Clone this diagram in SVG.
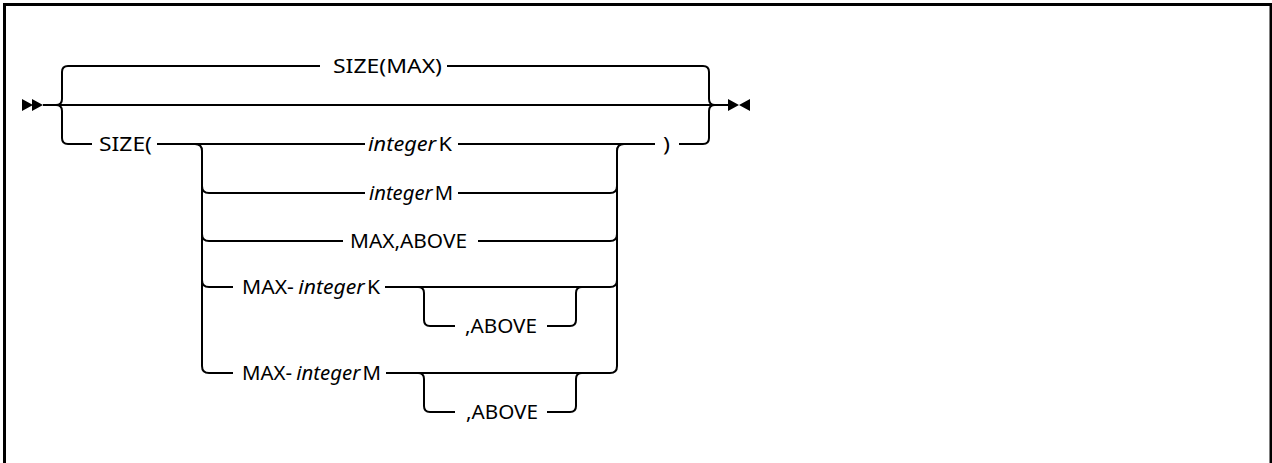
<svg xmlns="http://www.w3.org/2000/svg" width="1272" height="463" viewBox="0 0 1272 463">
<style>
.frame{fill:none;stroke:#000;stroke-width:3}
.ln{fill:none;stroke:#000;stroke-width:2}
.mk{fill:#000;stroke:none}
text{font-family:"Noto Sans","Liberation Sans",sans-serif;font-size:19px;fill:#000}
.it{font-style:italic}
</style>
<rect class="frame" x="4.5" y="4.5" width="1266.5" height="470"/>
<g id="connectors">
  <path class="mk" d="M22,99 L33,105 L22,111 Z M32,99 L43,105 L32,111 Z"/>
  <path class="mk" d="M728,99 L739,105 L728,111 Z M750,99 L739,105 L750,111 Z"/>
  <path class="ln" d="M43,105 H728"/>
  <path class="ln" d="M56,105 Q62,105 62,99 V72 Q62,66 68,66 H320"/>
  <path class="ln" d="M56,105 Q62,105 62,111 V138 Q62,144 68,144 H92"/>
  <path class="ln" d="M447,66 H703 Q709,66 709,72 V99 Q709,105 715,105"/>
  <path class="ln" d="M679,144 H703 Q709,144 709,138 V111 Q709,105 715,105"/>
  <path class="ln" d="M157,144 H365 M458,144 H655"/>
  <path class="ln" d="M195,144 Q202,144 202,151 V366 Q202,373 209,373 H233"/>
  <path class="ln" d="M202,186 Q202,193 209,193 H365"/>
  <path class="ln" d="M202,234 Q202,241 209,241 H343"/>
  <path class="ln" d="M202,280 Q202,287 209,287 H233"/>
  <path class="ln" d="M458,193 H610 Q617,193 617,186"/>
  <path class="ln" d="M478,241 H610 Q617,241 617,234"/>
  <path class="ln" d="M385,287 H610 Q617,287 617,280"/>
  <path class="ln" d="M386,373 H610 Q617,373 617,366 V151 Q617,144 624,144"/>
  <path class="ln" d="M418,287 Q424,287 424,293 V320 Q424,326 430,326 H455"/>
  <path class="ln" d="M547,326 H570 Q576,326 576,320 V293 Q576,287 582,287"/>
  <path class="ln" d="M418,373 Q424,373 424,379 V406 Q424,412 430,412 H455"/>
  <path class="ln" d="M547,412 H570 Q576,412 576,406 V379 Q576,373 582,373"/>
</g>
<g id="node-size-max"><text x="333" y="73" textLength="109" lengthAdjust="spacingAndGlyphs">SIZE(MAX)</text></g>
<g id="node-size-open"><text x="99" y="151" textLength="53" lengthAdjust="spacingAndGlyphs">SIZE(</text></g>
<g id="node-integer-k"><text x="368" y="151" textLength="84" lengthAdjust="spacingAndGlyphs"><tspan class="it">integer</tspan><tspan dx="2">K</tspan></text></g>
<g id="node-integer-m"><text x="369" y="200" textLength="84" lengthAdjust="spacingAndGlyphs"><tspan class="it">integer</tspan><tspan dx="2">M</tspan></text></g>
<g id="node-max-above"><text x="350" y="248" textLength="117" lengthAdjust="spacingAndGlyphs">MAX,ABOVE</text></g>
<g id="node-max-integer-k"><text x="242" y="294" textLength="138" lengthAdjust="spacingAndGlyphs">MAX-<tspan class="it" dx="4">integer</tspan><tspan dx="2">K</tspan></text></g>
<g id="node-above-1"><text x="465" y="333" textLength="72" lengthAdjust="spacingAndGlyphs">,ABOVE</text></g>
<g id="node-max-integer-m"><text x="242" y="380" textLength="139" lengthAdjust="spacingAndGlyphs">MAX-<tspan class="it" dx="4">integer</tspan><tspan dx="2">M</tspan></text></g>
<g id="node-above-2"><text x="466" y="419" textLength="72" lengthAdjust="spacingAndGlyphs">,ABOVE</text></g>
<g id="node-close"><text x="663" y="151" textLength="7" lengthAdjust="spacingAndGlyphs">)</text></g>
</svg>
